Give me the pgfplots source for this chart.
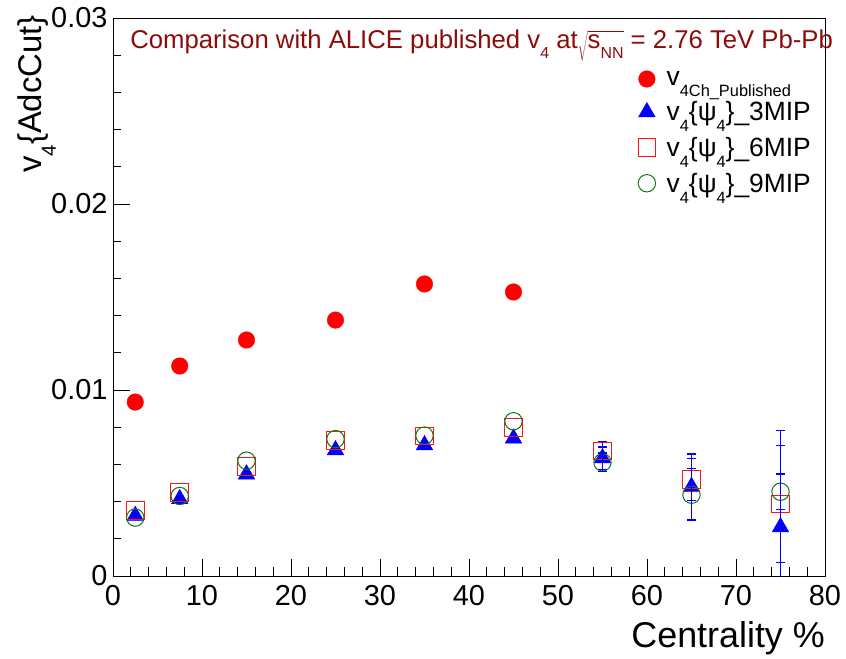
\documentclass[border=0pt]{standalone}
\usepackage{pgfplots}
\usepackage{pgfplotstable}
\pgfplotsset{compat=1.18}
\usepackage{fontspec}
\setmainfont{Liberation Sans}
\definecolor{titlered}{RGB}{140,12,12}
\definecolor{rootgreen}{RGB}{25,115,25}
\definecolor{rootred}{RGB}{255,20,20}
\newcommand{\lsub}[1]{\raisebox{-0.42em}{\scalebox{0.62}{#1}}}

\pgfplotstableread{
x y
2.5 0.00935
7.5 0.01129
15 0.01269
25 0.01376
35 0.01570
45 0.01527
}\pubdata

\pgfplotstableread{
x y e
2.5 0.00324 0.0002
7.5 0.00414 0.0002
15 0.00547 0.0002
25 0.00677 0.0002
35 0.00704 0.0002
45 0.00740 0.0002
55 0.00634 0.0006
65 0.00480 0.00176
75 0.00263 0.0052
}\tridata

\pgfplotstableread{
x y e
2.5 0.00353 0.0002
7.5 0.00450 0.0002
15 0.00590 0.0002
25 0.00728 0.0002
35 0.00753 0.0002
45 0.00797 0.0002
55 0.00671 0.0005
65 0.00519 0.00114
75 0.00387 0.00315
}\sqdata

\pgfplotstableread{
x y e
2.5 0.00314 0.0002
7.5 0.00430 0.0002
15 0.00620 0.0002
25 0.00736 0.0002
35 0.00755 0.0002
45 0.00832 0.0002
55 0.00611 0.0005
65 0.00437 0.0014
75 0.00453 0.00095
}\cidata

\begin{document}
\begin{tikzpicture}
\path[use as bounding box] (-113bp,-83bp) rectangle (733bp,576bp);
\begin{axis}[
  scale only axis, width=712bp, height=558bp,
  at={(0,0)}, anchor=south west,
  xmin=0, xmax=80, ymin=0, ymax=0.03,
  xtick={0,10,...,80}, minor x tick num=4,
  ytick={0,0.01,0.02,0.03}, yticklabels={0,0.01,0.02,0.03},
  minor y tick num=4,
  scaled y ticks=false,
  xtick pos=bottom, ytick pos=left, tick align=inside,
  major tick length=17bp, minor tick length=8.5bp,
  tick style={black, line width=0.8bp},
  axis line style={line width=0.9bp},
  /pgf/number format/assume math mode=true,
  ticklabel style={font=\fontsize{29}{29}\selectfont},
  xticklabel style={yshift=-6bp},
  yticklabel style={xshift=-2bp},
  clip mode=individual,
  xlabel={Centrality \%},
  xlabel style={at={(rel axis cs:1,0)}, anchor=north east, yshift=-45bp, inner sep=0pt, font=\fontsize{36}{36}\selectfont},
  ylabel={v\lsub{4}\{AdcCut\}},
  ylabel style={at={([xshift=-57bp,yshift=3bp]rel axis cs:0,1)}, anchor=south east, inner sep=0pt, font=\fontsize{33}{33}\selectfont},
  legend style={draw=none, fill=none, at={(rel axis cs:0.733,0.912)}, anchor=north west,
    font=\fontsize{26.5}{30}\selectfont, row sep=11bp,
    /tikz/every odd column/.append style={column sep=9bp}},
  legend cell align=left,
]
\addplot[only marks, mark=*, mark size=8.3bp, color=red, mark options={fill=red, draw=red}]
  table[x=x,y=y] {\pubdata};
\addlegendentry{v\lsub{4Ch\_Published}}

\addplot[only marks, mark=triangle*, mark size=9.6bp, color=blue, mark options={fill=blue, draw=blue}]
  table[x=x,y=y] {\tridata};
\addlegendentry{v\lsub{4}\{ψ\lsub{4}\}\_3MIP}

\addplot[only marks, mark=square, mark size=8.8bp, color=rootred, mark options={draw=rootred, line width=1bp}]
  table[x=x,y=y] {\sqdata};
\addlegendentry{v\lsub{4}\{ψ\lsub{4}\}\_6MIP}

\addplot[only marks, mark=o, mark size=8.7bp, color=rootgreen, mark options={draw=rootgreen, line width=1bp}]
  table[x=x,y=y] {\cidata};
\addlegendentry{v\lsub{4}\{ψ\lsub{4}\}\_9MIP}

% error bars (only those that reach beyond the markers)
\pgfplotsset{rooterr/.style={draw=none, no markers, forget plot,
  error bars/.cd, y dir=both, y explicit,
  error bar style={draw=blue, line width=1.2bp},
  error mark options={draw=blue, rotate=90, mark size=4.5bp, line width=1.2bp}}}
\addplot[rooterr] table[x=x,y=y,y error=e, skip coords between index={0}{6}] {\tridata};
\addplot[rooterr] table[x=x,y=y,y error=e, skip coords between index={0}{6}] {\sqdata};
\addplot[rooterr] table[x=x,y=y,y error=e, skip coords between index={0}{6}] {\cidata};

\node[anchor=base west, inner sep=0pt, text=titlered, font=\fontsize{25.8}{26}\selectfont]
  at (rel axis cs:0.024,0.946)
  {Comparison with ALICE published v\lsub{4} at\(\sqrt{\mbox{s\lsub{NN}}}\) = 2.76 TeV Pb-Pb};
\end{axis}
\end{tikzpicture}
\end{document}
